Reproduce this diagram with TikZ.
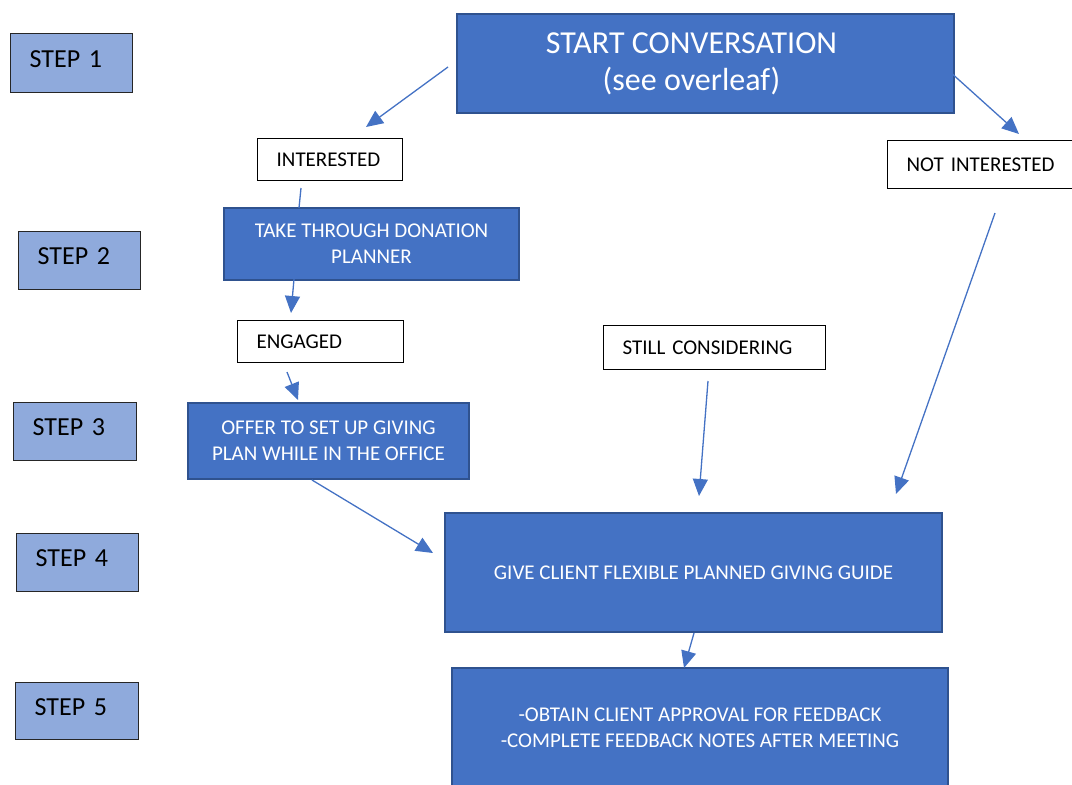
\documentclass[tikz,border=0pt]{standalone}
\usepackage{fontspec}
\setmainfont{Carlito}
\usetikzlibrary{arrows.meta}
\definecolor{boxblue}{HTML}{4472C4}
\definecolor{boxedge}{HTML}{2F528F}
\definecolor{stepblue}{HTML}{8FAADC}

\begin{document}
\begin{tikzpicture}[x=1pt,y=-1pt,
        stepbox/.style={draw=black!85, line width=1.3pt, fill=stepblue, anchor=north west,
            inner xsep=19pt, inner ysep=0pt, align=left, text height=18pt, text depth=9.6pt,
            font=\fontsize{26}{30}\selectfont},
        answer/.style={draw=black, line width=1.3pt, fill=white, anchor=north west,
            inner xsep=19pt, inner ysep=0pt, align=left, font=\fontsize{21}{25}\selectfont},
        action/.style={draw=boxedge, line width=2pt, fill=boxblue, text=white, anchor=north west,
            inner sep=0pt, align=center, font=\fontsize{21}{26}\selectfont},
        flow/.style={draw=boxblue, line width=1.3pt, -{Triangle[length=17pt,width=15pt]}}]
        \useasboundingbox (0,0) rectangle (1072,785);

        % Step labels
        \node[stepbox, text width=84pt, minimum height=59pt] (step1) at (10,33) {STEP 1};
        \node[stepbox, text width=84pt, minimum height=58pt] (step2) at (18,231) {STEP 2};
        \node[stepbox, text width=85pt, minimum height=58pt] (step3) at (13,402) {STEP 3};
        \node[stepbox, text width=84pt, minimum height=58pt] (step4) at (16,533) {STEP 4};
        \node[stepbox, text width=85pt, minimum height=57pt] (step5) at (15,682) {STEP 5};

        % Actions
        \node[action, minimum width=497pt, minimum height=99pt] (start) at (456,13) {};
        \node[text=white, align=center, font=\fontsize{32}{37}\selectfont] (starttext)
            at ([xshift=-14pt]start.center) {START CONVERSATION\\(see overleaf)};
        \node[action, minimum width=295pt, minimum height=72pt] (planner) at (223,207)
            {TAKE THROUGH DONATION\\PLANNER};
        \node[action, minimum width=281pt, minimum height=76pt] (offer) at (187,402)
            {OFFER TO SET UP GIVING\\PLAN WHILE IN THE OFFICE};
        \node[action, minimum width=497pt, minimum height=119pt] (guide) at (444,512)
            {GIVE CLIENT FLEXIBLE PLANNED GIVING GUIDE};
        \node[action, minimum width=496pt, minimum height=120pt] (feedback) at (451,667)
            {-OBTAIN CLIENT APPROVAL FOR FEEDBACK\\-COMPLETE FEEDBACK NOTES AFTER MEETING};

        % Answers
        \node[answer, text width=107pt, minimum height=42pt] (interested) at (257,138) {INTERESTED};
        \node[answer, text width=152pt, minimum height=48pt] (notinterested) at (887,140) {NOT INTERESTED};
        \node[answer, text width=128pt, minimum height=42pt] (engaged) at (237,320) {ENGAGED};
        \node[answer, text width=184pt, minimum height=44pt] (considering) at (603,325) {STILL CONSIDERING};

        % Arrow ends
        \coordinate (s1a) at (448,67);   \coordinate (s1b) at (366,127);
        \coordinate (s2a) at (939,62);   \coordinate (s2b) at (1019,134);
        \coordinate (i1a) at (301,188);  \coordinate (i1b) at (299,208);
        \coordinate (p1a) at (294,279);  \coordinate (p1b) at (291,313);
        \coordinate (e1a) at (287,372);  \coordinate (e1b) at (298,400);
        \coordinate (o1a) at (312,480);  \coordinate (o1b) at (433,553);
        \coordinate (c1a) at (708,381);  \coordinate (c1b) at (699,496);
        \coordinate (n1a) at (995,213);  \coordinate (n1b) at (896,494);
        \coordinate (g1a) at (694,633);  \coordinate (g1b) at (684,668);

        % Arrows
        \draw[flow] (s1a) -- (s1b);
        \draw[flow] (s2a) -- (s2b);
        \draw[flow, -] (i1a) -- (i1b);
        \draw[flow] (p1a) -- (p1b);
        \draw[flow] (e1a) -- (e1b);
        \draw[flow] (o1a) -- (o1b);
        \draw[flow] (c1a) -- (c1b);
        \draw[flow] (n1a) -- (n1b);
        \draw[flow] (g1a) -- (g1b);

    \end{tikzpicture}
\end{document}
